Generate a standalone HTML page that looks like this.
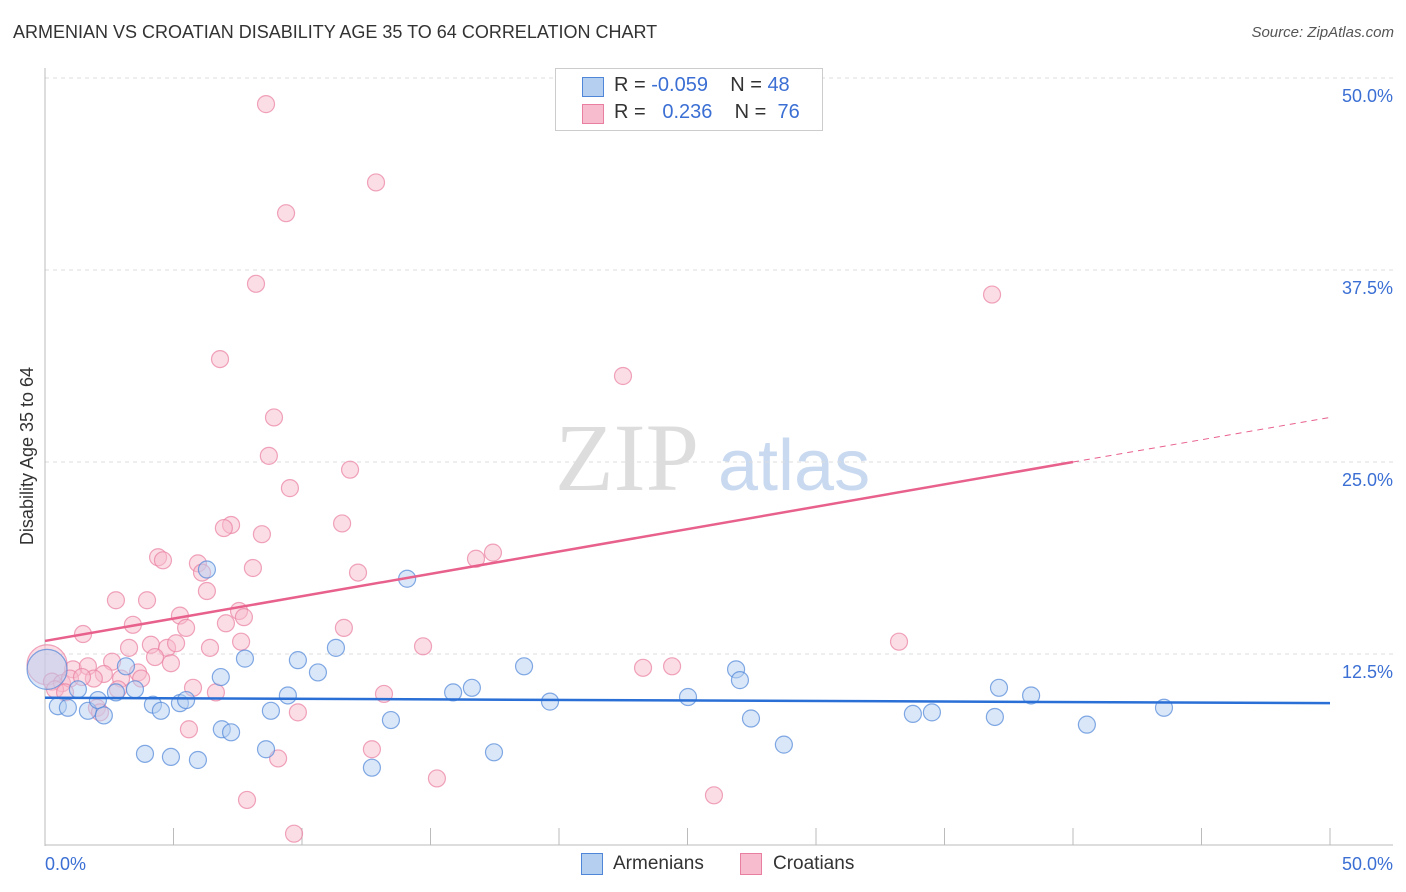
<!DOCTYPE html>
<html><head><meta charset="utf-8"><style>
body{margin:0;background:#fff;font-family:"Liberation Sans",sans-serif;}
#wrap{position:relative;width:1406px;height:892px;overflow:hidden}
.t{position:absolute;white-space:nowrap}
</style></head><body>
<div id="wrap">
<div class="t" style="left:13px;top:22px;font-size:18px;color:#333">ARMENIAN VS CROATIAN DISABILITY AGE 35 TO 64 CORRELATION CHART</div>
<div class="t" style="right:12px;top:24px;font-size:15px;color:#555;font-style:italic">Source: ZipAtlas.com</div>
<svg id="svg" width="1406" height="892" style="position:absolute;left:0;top:0"></svg>
</div>
<script>
const xTicksLabels=["0.0%","50.0%"];
const yTickVals=[12.5,25,37.5,50];
const blueX=[0.08,0.5,0.89,1.28,1.67,2.06,2.29,3.15,2.76,3.5,3.89,4.2,4.51,4.9,5.25,5.49,5.95,6.3,6.84,6.88,7.24,7.78,8.6,8.79,9.45,9.84,10.62,11.32,12.72,13.46,14.09,15.88,16.61,17.47,18.64,19.65,25.02,26.89,27.04,27.47,28.75,33.77,34.51,36.96,37.12,38.37,40.54,43.54];
const blueY=[11.5,9.1,9.0,10.2,8.8,9.5,8.5,11.7,10.0,10.2,6.0,9.2,8.8,5.8,9.3,9.5,5.6,18.0,11.0,7.6,7.4,12.2,6.3,8.8,9.8,12.1,11.3,12.9,5.1,8.2,17.4,10.0,10.3,6.1,11.7,9.4,9.7,11.5,10.8,8.3,6.6,8.6,8.7,8.4,10.3,9.8,7.9,9.0];
const pinkX=[8.6,12.88,9.38,8.21,36.85,6.81,22.49,8.91,8.71,11.87,9.53,7.24,6.96,11.56,8.44,17.43,16.77,4.4,4.59,5.95,6.11,8.09,12.18,6.3,2.76,3.97,5.25,7.55,7.74,5.49,3.42,7.04,11.63,1.48,3.27,4.12,4.75,5.1,6.42,7.63,14.71,33.23,2.61,4.28,4.9,1.09,1.67,2.29,3.62,0.08,1.9,0.27,0.66,0.97,2.96,3.74,2.02,2.14,2.84,5.76,6.65,13.19,9.84,23.27,24.4,5.6,9.07,12.72,15.25,7.86,9.69,26.03,0.39,0.78,1.44];
const pinkY=[48.3,43.2,41.2,36.6,35.9,31.7,30.6,27.9,25.4,24.5,23.3,20.9,20.7,21.0,20.3,19.1,18.7,18.8,18.6,18.4,17.8,18.1,17.8,16.6,16.0,16.0,15.0,15.3,14.9,14.2,14.4,14.5,14.2,13.8,12.9,13.1,12.9,13.2,12.9,13.3,13.0,13.3,12.0,12.3,11.9,11.5,11.7,11.2,11.3,11.8,10.9,10.7,10.6,10.9,10.9,10.9,9.0,8.7,10.2,10.3,10.0,9.9,8.7,11.6,11.7,7.6,5.7,6.3,4.4,3.0,0.8,3.3,10.2,10.0,11.0];
const blueTrend=[9.65,9.3];
const pinkTrend=[13.35,25.0,27.9];
const X0=45,X1=1330,Y0=846,Ypx=768/50;
const sx=v=>X0+(X1-X0)*v/50, sy=v=>Y0-v*Ypx;
const svg=document.getElementById('svg');const NS='http://www.w3.org/2000/svg';
function mk(tag,attrs,txt){const e=document.createElementNS(NS,tag);for(const k in attrs)e.setAttribute(k,attrs[k]);if(txt!=null)e.textContent=txt;svg.appendChild(e);return e;}
// watermark
let w=mk('text',{x:555,y:490,'font-size':96,fill:'#ddd','font-family':'Liberation Serif, serif'},'ZIP');


w=mk('text',{x:718,y:490,'font-size':72,fill:'#c9d9f0','font-family':'Liberation Sans, sans-serif'},'atlas');


// grid
yTickVals.forEach(v=>{
 let g=mk('line',{x1:X0,x2:1393,y1:sy(v),y2:sy(v),stroke:'#ddd','stroke-dasharray':'4,4'});
 
 
 let t=mk('text',{x:1393,y:sy(v)+24,'text-anchor':'end','font-size':18,fill:'#3b6fd4'},v.toFixed(1)+'%');
 
 
});
let ax=mk('line',{x1:X0,x2:X0,y1:68,y2:846,stroke:'#bbb'});


ax=mk('line',{x1:X0,x2:1393,y1:845,y2:845,stroke:'#bbb'});


for(let i=1;i<=10;i++){let tk=mk('line',{x1:sx(i*5),x2:sx(i*5),y1:828,y2:845,stroke:'#bbb'});
 
 }
let xl=mk('text',{x:45,y:870,'font-size':18,fill:'#3b6fd4'},xTicksLabels[0]);


xl=mk('text',{x:1393,y:870,'text-anchor':'end','font-size':18,fill:'#3b6fd4'},xTicksLabels[1]);


let yt=mk('text',{x:0,y:0,'font-size':18,fill:'#333','text-anchor':'middle',transform:'translate(33,456) rotate(-90)'},'Disability Age 35 to 64');


// points
function pts(xs,ys,fill,stroke,name){xs.forEach((x,i)=>{
 const big=(x<0.2);
 let c=mk('circle',{cx:sx(x),cy:sy(ys[i]),r:big?20:8.5,fill:fill,'fill-opacity':0.5,stroke:stroke,'stroke-opacity':0.7,'stroke-width':1.2});
 
 });}
pts(pinkX,pinkY,'#f7bccd','#e97fa0','croatian-point');
pts(blueX,blueY,'#b5cff1','#4f86d8','armenian-point');
let l=mk('line',{x1:sx(0),y1:sy(pinkTrend[0]),x2:sx(40),y2:sy(pinkTrend[1]),stroke:'#e8608c','stroke-width':2.5});


l=mk('line',{x1:sx(40),y1:sy(pinkTrend[1]),x2:sx(50),y2:sy(pinkTrend[2]),stroke:'#e8608c','stroke-width':1,'stroke-dasharray':'6,5'});


l=mk('line',{x1:sx(0),y1:sy(blueTrend[0]),x2:sx(50),y2:sy(blueTrend[1]),stroke:'#2a6fd6','stroke-width':2.5});


</script>
<div class="t" style="left:555px;top:68px;width:266px;height:61px;border:1px solid #ccc;background:#fff">
 <div class="t" style="left:26px;top:8px;width:20px;height:18px;background:#b5cff1;border:1px solid #4f86d8"></div>
 <div class="t" style="left:58px;top:5px;font-size:20px;color:#333">R = <span style="color:#3b6fd4">-0.059</span>&nbsp;&nbsp;&nbsp; N = <span style="color:#3b6fd4">48</span></div>
 <div class="t" style="left:26px;top:35px;width:20px;height:18px;background:#f7bccd;border:1px solid #e97fa0"></div>
 <div class="t" style="left:58px;top:32px;font-size:20px;color:#333">R = &nbsp;&nbsp;<span style="color:#3b6fd4">0.236</span>&nbsp;&nbsp;&nbsp; N = &nbsp;<span style="color:#3b6fd4">76</span></div>
</div>
<div class="t" style="left:581px;top:853px;width:20px;height:20px;background:#b5cff1;border:1px solid #4f86d8"></div>
<div class="t" style="left:613px;top:853px;font-size:19px;color:#333">Armenians</div>
<div class="t" style="left:740px;top:853px;width:20px;height:20px;background:#f7bccd;border:1px solid #e97fa0"></div>
<div class="t" style="left:773px;top:853px;font-size:19px;color:#333">Croatians</div>
</body></html>
